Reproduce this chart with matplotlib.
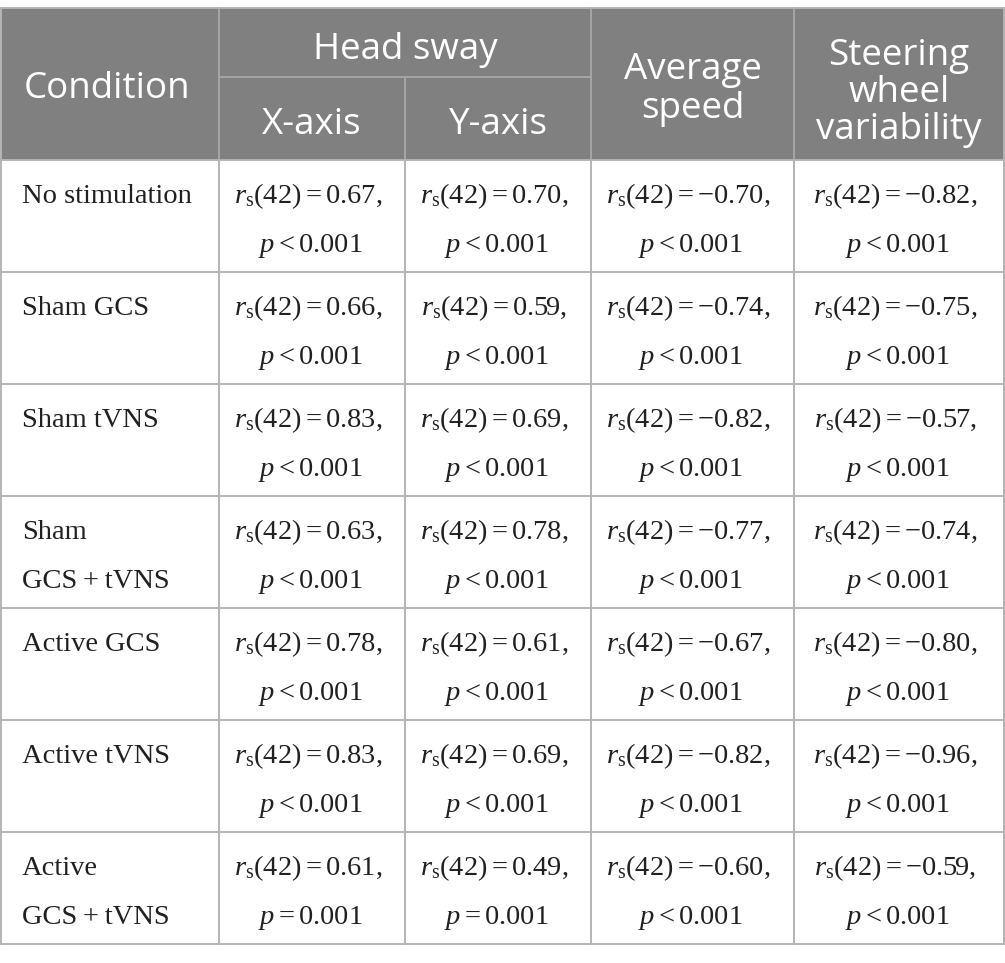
import matplotlib
matplotlib.use("Agg")
import matplotlib.pyplot as plt
from matplotlib.patches import Rectangle

plt.rcParams['mathtext.fontset'] = 'custom'
plt.rcParams['mathtext.rm'] = 'Liberation Serif'
plt.rcParams['mathtext.it'] = 'Liberation Serif:italic'
plt.rcParams['mathtext.bf'] = 'Liberation Serif:bold'

# ---- data ----
conditions = ["No stimulation", "Sham GCS", "Sham tVNS", "Sham\nGCS\u2009+\u2009tVNS",
              "Active GCS", "Active tVNS", "Active\nGCS\u2009+\u2009tVNS"]
headsway_x = [0.67, 0.66, 0.83, 0.63, 0.78, 0.83, 0.61]
headsway_y = [0.70, 0.59, 0.69, 0.78, 0.61, 0.69, 0.49]
avg_speed = [-0.70, -0.74, -0.82, -0.77, -0.67, -0.82, -0.60]
steering = [-0.82, -0.75, -0.57, -0.74, -0.80, -0.96, -0.59]
p_x = ["<", "<", "<", "<", "<", "<", "="]
p_y = ["<", "<", "<", "<", "<", "<", "="]
p_speed = ["<"] * 7
p_steer = ["<"] * 7
df_n = 42

# ---- layout ----
W, H = 1005, 963
fig = plt.figure(figsize=(W / 100, H / 100), dpi=100)
ax = fig.add_axes([0, 0, 1, 1])
ax.set_xlim(0, W)
ax.set_ylim(H, 0)
ax.axis('off')

col_edges = [1, 219, 405, 591, 794, 1004]
top, sub, head_bot = 8, 77, 160
row_h = 112
n = len(conditions)
bottom = head_bot + n * row_h

header_bg = '#808080'
grid = '#b3b3b3'
head_line = '#a6a6a6'
txt = '#231f20'

ax.add_patch(Rectangle((col_edges[0], top), col_edges[-1] - col_edges[0], head_bot - top,
                       facecolor=header_bg, edgecolor='none', zorder=1))

lw = 1.4
for xe in col_edges[1:-1]:
    y0 = sub if xe == 405 else top
    ax.plot([xe, xe], [y0, head_bot], color=head_line, lw=lw, zorder=2)
ax.plot([col_edges[1], col_edges[3]], [sub, sub], color=head_line, lw=lw, zorder=2)

for i in range(n + 1):
    y = head_bot + i * row_h
    ax.plot([col_edges[0], col_edges[-1]], [y, y], color=grid, lw=lw, zorder=2)
for xe in col_edges:
    ax.plot([xe, xe], [head_bot, bottom], color=grid, lw=lw, zorder=2)
ax.plot([col_edges[0], col_edges[-1]], [top, top], color=grid, lw=lw, zorder=2)
for xe in (col_edges[0], col_edges[-1]):
    ax.plot([xe, xe], [top, head_bot], color=grid, lw=lw, zorder=2)

hfont = dict(family='Open Sans', fontsize=26.5, color='white',
             ha='center', va='baseline', zorder=3)
def head(x, baselines, lines):
    for b, s in zip(baselines, lines):
        ax.text(x, b, s, **hfont)

cx = [(col_edges[i] + col_edges[i + 1]) / 2 for i in range(5)]
head(107, [98], ["Condition"])
head((col_edges[1] + col_edges[3]) / 2, [59], ["Head sway"])
head(cx[1], [134], ["X-axis"])
head(cx[2], [134], ["Y-axis"])
head(cx[3], [79, 118], ["Average", "speed"])
head(cx[4], [65, 102, 139], ["Steering", "wheel", "variability"])

bfont = dict(family=['Liberation Serif', 'DejaVu Serif'], fontsize=20.5, color=txt,
             va='baseline', zorder=3)

def fmt(v):
    s = f"{abs(v):.2f}"
    return ("-" if v < 0 else "") + s

cols = [(headsway_x, p_x), (headsway_y, p_y), (avg_speed, p_speed), (steering, p_steer)]
for i, cond in enumerate(conditions):
    rt = head_bot + i * row_h
    b1, b2 = rt + 43, rt + 92
    for b, s in zip([b1, b2], cond.split("\n")):
        ax.text(22, b, s, ha='left', **bfont)
    for j, (vals, ps) in enumerate(cols):
        ax.text(cx[j + 1] - 4, b1, r"$r_{\mathrm{s}}(%d) = %s,$" % (df_n, fmt(vals[i])),
                ha='center', **bfont)
        ax.text(cx[j + 1] - 2, b2, r"$p %s 0.001$" % ps[i], ha='center', **bfont)

fig.savefig("out.png", dpi=100, facecolor='white')
